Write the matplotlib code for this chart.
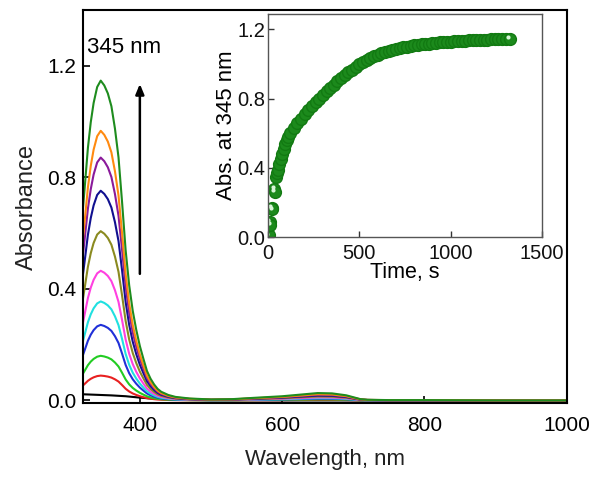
import matplotlib
matplotlib.use("Agg")
import matplotlib.pyplot as plt
import matplotlib.transforms as mtransforms
import numpy as np

plt.rcParams['font.family'] = ['Liberation Sans', 'DejaVu Sans']

# ---- Main spectra data ----
wavelength = [320, 323, 327, 331, 335, 340, 345, 350, 355, 360, 365, 370, 375, 380, 385,
              390, 395, 400, 405, 410, 415, 420, 425, 430, 440, 450, 470, 500, 530, 560,
              600, 630, 650, 670, 690, 700, 710, 720, 750, 800, 900, 1000]
profile = [0.60, 0.68, 0.79, 0.87, 0.93, 0.98, 1.00, 0.985, 0.96, 0.92, 0.85, 0.76, 0.62, 0.47, 0.36,
           0.28, 0.22, 0.17, 0.13, 0.092, 0.068, 0.05, 0.036, 0.027, 0.017, 0.011, 0.006, 0.003, 0.004, 0.008,
           0.013, 0.019, 0.023, 0.022, 0.016, 0.010, 0.004, 0.002, 0.001, 0.001, 0.0, 0.0]
peak_heights = [0.089, 0.160, 0.271, 0.355, 0.465, 0.607, 0.752, 0.871, 0.967, 1.147]
curve_colors = ['#e82020', '#22cc22', '#2030d8', '#20e0e0', '#ff40e0', '#8a8a20',
                '#101090', '#8a1a9a', '#ff8a10', '#1e8c1e']
baseline_wl = [320, 340, 360, 380, 400, 420, 450, 500, 600, 700, 800, 1000]
baseline_abs = [0.022, 0.020, 0.018, 0.015, 0.010, 0.006, 0.003, 0.001, 0.0, 0.0, 0.0, 0.0]

# ---- Inset kinetics data ----
time_s = [3, 8, 12, 20, 24, 35, 38, 44, 50, 56, 62, 70, 78, 86, 94, 102, 110,
          120, 140, 160, 180, 200, 220, 240, 260, 280, 300, 320, 340, 360, 380, 400,
          420, 440, 460, 480, 500, 520, 540, 560, 580, 600, 620, 640, 660, 680, 700,
          720, 740, 760, 780, 800, 820, 840, 860, 880, 900, 920, 940, 960, 980, 1000,
          1020, 1040, 1060, 1080, 1100, 1120, 1140, 1160, 1180, 1200, 1220, 1240, 1260,
          1280, 1300, 1325]
abs345 = [0.01, 0.09, 0.07, 0.17, 0.16, 0.28, 0.26, 0.35, 0.37, 0.39, 0.42, 0.45, 0.48, 0.51, 0.54, 0.56, 0.58,
          0.600, 0.630, 0.658, 0.685, 0.711, 0.735, 0.758, 0.780, 0.801, 0.822, 0.842, 0.862, 0.881, 0.900, 0.918,
          0.935, 0.952, 0.968, 0.983, 0.998, 1.012, 1.024, 1.035, 1.045, 1.054, 1.062, 1.069, 1.075, 1.081, 1.087,
          1.092, 1.097, 1.101, 1.105, 1.108, 1.111, 1.114, 1.117, 1.119, 1.121, 1.123, 1.125, 1.127, 1.129, 1.130,
          1.132, 1.133, 1.135, 1.136, 1.137, 1.138, 1.139, 1.140, 1.141, 1.142, 1.143, 1.144, 1.145,
          1.145, 1.146, 1.146]

fig = plt.figure(figsize=(6.01, 4.80), dpi=100)
ax = fig.add_axes([0.138, 0.160, 0.805, 0.819])

ax.plot(baseline_wl, baseline_abs, color='black', lw=1.5)
prof = np.array(profile)
for h, c in zip(peak_heights, curve_colors):
    ax.plot(wavelength, h * prof, color=c, lw=1.5)

ax.set_xlim(320, 1000)
ax.set_ylim(-0.01, 1.40)
ax.set_xticks([400, 600, 800, 1000])
ax.set_yticks([0.0, 0.4, 0.8, 1.2])
ax.set_yticklabels(['0.0', '0.4', '0.8', '1.2'])
ax.tick_params(direction='in', length=5, width=1.2, labelsize=15, colors='black')
ax.tick_params(axis='x', pad=9)
ax.tick_params(axis='y', pad=5)
for s in ax.spines.values():
    s.set_linewidth(1.5)
ax.set_xlabel('Wavelength, nm', fontsize=16, labelpad=10, color='#222222')
ax.set_ylabel('Absorbance', fontsize=17, labelpad=6, color='#222222')

ax.text(325.5, 1.265, '345 nm', fontsize=16, ha='left', va='center')
ax.annotate('', xy=(400, 1.145), xytext=(400, 0.444),
            arrowprops=dict(arrowstyle='-|>,head_length=0.6,head_width=0.25',
                            color='black', lw=1.8))

# ---- Inset ----
ins = fig.add_axes([0.446, 0.506, 0.456, 0.465])
ins.plot(time_s, abs345, 'o', ms=8.5, mfc='#1c8a1c', mec='#127a12', mew=1.0)
hl = mtransforms.offset_copy(ins.transData, fig=fig, x=-1.2, y=1.2, units='points')
early = 7
ins.plot(time_s[:early], abs345[:early], 'o', ms=3, mfc='#d8f5d8', mec='none', transform=hl)
ins.plot(time_s[-1:], abs345[-1:], 'o', ms=3, mfc='#d8f5d8', mec='none', transform=hl)

ins.set_xlim(0, 1500)
ins.set_ylim(0, 1.29)
ins.set_xticks([0, 500, 1000, 1500])
ins.set_yticks([0.0, 0.4, 0.8, 1.2])
ins.set_yticklabels(['0.0', '0.4', '0.8', '1.2'])
ins.tick_params(direction='in', length=4, width=1.0, labelsize=14.5, colors='#333333', labelcolor='#111111')
ins.tick_params(axis='x', pad=5)
ins.tick_params(axis='y', pad=2)
for s in ins.spines.values():
    s.set_linewidth(1.0)
    s.set_color('#555555')
ins.set_xlabel('Time, s', fontsize=15.5, labelpad=-1)
ins.set_ylabel('Abs. at 345 nm', fontsize=16, labelpad=0)

fig.savefig('out.png', dpi=100)
